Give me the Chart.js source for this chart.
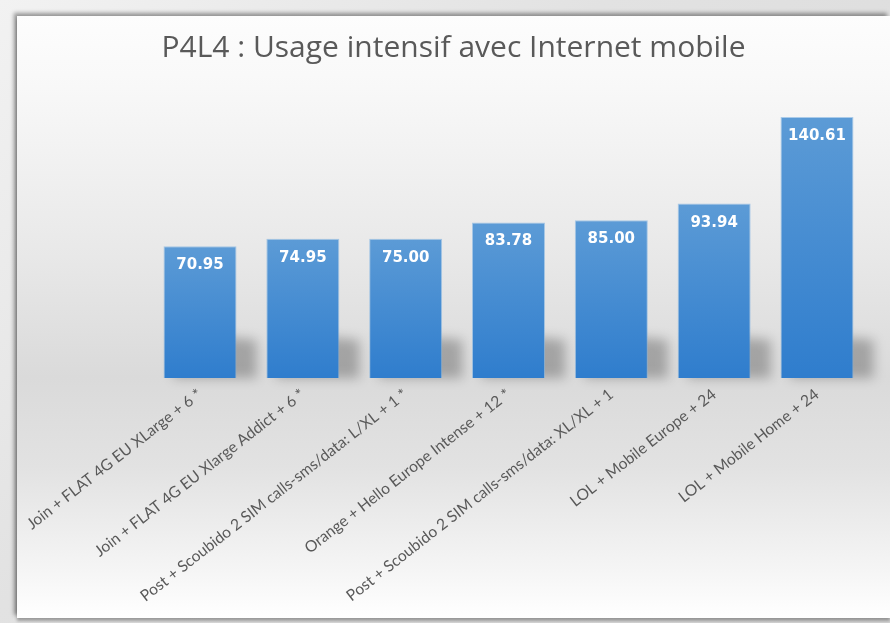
<!DOCTYPE html>
<html>
<head>
<meta charset="utf-8">
<script src="https://cdn.jsdelivr.net/npm/chart.js@4/dist/chart.umd.min.js"></script>
<style>
  html, body { margin: 0; padding: 0; }
  body {
    width: 890px; height: 623px; overflow: hidden; position: relative;
    background: linear-gradient(135deg, #f2f2f2 0%, #e2e2e2 40%, #d8d8d8 100%);
  }
  #panel {
    position: absolute; left: 17px; top: 16px; width: 873px; height: 602px;
    background: linear-gradient(180deg, #fdfdfd 0%, #f8f8f8 12%, #e8e8e8 40%, #dadada 60%, #e2e2e2 75%, #f5f5f5 92%, #ffffff 100%);
    box-shadow: -3px -3px 4px rgba(0,0,0,0.38), 0 3px 3px rgba(0,0,0,0.3);
  }
</style>
</head>
<body>
<div id="panel"><canvas id="chart" width="873" height="602"></canvas></div>
<script>
const titleText = 'P4L4 : Usage intensif avec Internet mobile';
const offers = [
    'Join + FLAT 4G EU XLarge + 6 *',
    'Join + FLAT 4G EU Xlarge Addict + 6 *',
    'Post + Scoubido 2 SIM calls-sms/data: L/XL + 1 *',
    'Orange + Hello Europe Intense + 12 *',
    'Post + Scoubido 2 SIM calls-sms/data: XL/XL + 1',
    'LOL + Mobile Europe + 24',
    'LOL + Mobile Home + 24'
];
const prices = [70.95, 74.95, 75.00, 83.78, 85.00, 93.94, 140.61];

function barGradient(context) {
    const chart = context.chart;
    const y = chart.scales.y;
    if (!chart.chartArea || !y || context.parsed === undefined) return '#4a8fd6';
    const top = y.getPixelForValue(context.parsed.y);
    const bottom = y.getPixelForValue(0);
    if (!isFinite(top) || !isFinite(bottom) || top === bottom) return '#4a8fd6';
    const g = chart.ctx.createLinearGradient(0, top, 0, bottom);
    g.addColorStop(0, '#5c9bd6');
    g.addColorStop(1, '#2f7dcd');
    return g;
}

// soft shadow to the right of every bar foot
const barShadow = {
    id: 'barShadow',
    beforeDatasetsDraw(chart) {
        const ctx = chart.ctx;
        const bars = chart.getDatasetMeta(0).data;
        ctx.save();
        ctx.filter = 'blur(6px)';
        ctx.fillStyle = 'rgba(0,0,0,0.26)';
        bars.forEach(b => {
            const left = b.x - b.width / 2;
            ctx.beginPath();
            ctx.moveTo(left + 10, b.base - 46);
            ctx.lineTo(left + b.width + 20, b.base - 38);
            ctx.lineTo(left + b.width + 20, b.base);
            ctx.lineTo(left + 10, b.base);
            ctx.closePath();
            ctx.fill();
        });
        ctx.restore();
    }
};

// white value labels inside the top of the bars
const valueLabels = {
    id: 'valueLabels',
    afterDatasetsDraw(chart) {
        const ctx = chart.ctx;
        const bars = chart.getDatasetMeta(0).data;
        ctx.save();
        ctx.font = 'bold 15px "DejaVu Sans"';
        ctx.fillStyle = '#ffffff';
        ctx.textAlign = 'center';
        ctx.textBaseline = 'middle';
        bars.forEach((b, i) => {
            ctx.fillText(prices[i].toFixed(2), b.x, b.y + 19);
        });
        ctx.restore();
    }
};

new Chart(document.getElementById('chart'), {
    type: 'bar',
    data: {
        labels: offers,
        datasets: [{
            data: prices,
            backgroundColor: barGradient,
            borderColor: 'rgba(120,175,225,0.6)',
            borderWidth: 1,
            barPercentage: 0.71,
            categoryPercentage: 1
        }]
    },
    options: {
        responsive: false,
        animation: false,
        layout: { padding: { left: 0, right: 0, top: 0, bottom: 10 } },
        plugins: {
            legend: { display: false },
            tooltip: { enabled: false },
            title: {
                display: true,
                text: titleText,
                color: '#595959',
                font: { family: 'Open Sans', size: 30, weight: 'normal' },
                padding: { top: 14, bottom: 35.4 }
            }
        },
        scales: {
            x: {
                grid: { display: false },
                border: { display: false },
                ticks: {
                    color: '#595959',
                    font: { family: 'Lato', size: 15.6 },
                    minRotation: 38,
                    maxRotation: 38,
                    autoSkip: false,
                    padding: -1
                },
                afterFit(scale) {
                    scale.paddingLeft = 0;
                    scale.paddingRight = 0;
                    scale.height = 230;
                }
            },
            y: {
                display: true,
                min: 0,
                max: 149,
                grid: { display: false },
                border: { display: false },
                ticks: { display: false },
                afterFit(scale) {
                    scale.width = 131.6;
                }
            },
            yRight: {
                position: 'right',
                display: true,
                min: 0,
                max: 149,
                grid: { display: false },
                border: { display: false },
                ticks: { display: false },
                afterFit(scale) {
                    scale.width = 21.6;
                }
            }
        }
    },
    plugins: [barShadow, valueLabels]
});
</script>
</body>
</html>
